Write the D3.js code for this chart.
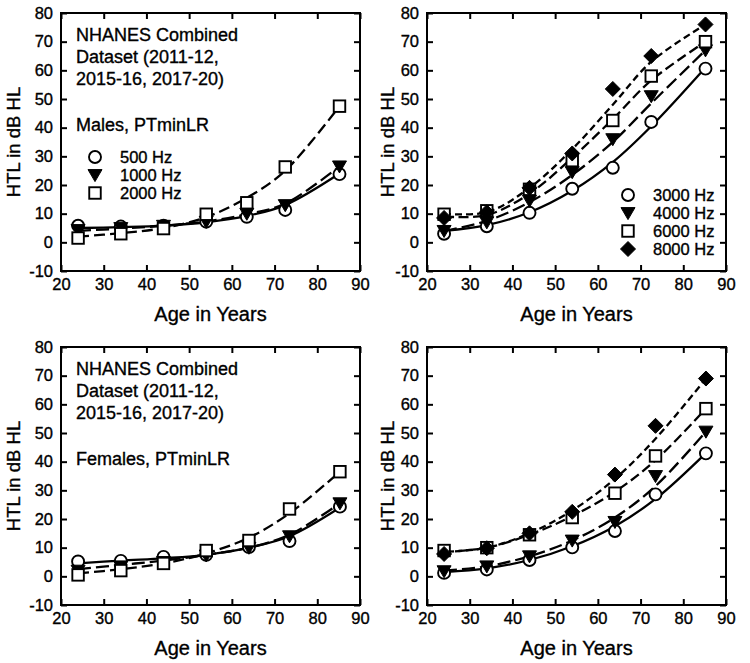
<!DOCTYPE html>
<html>
<head>
<meta charset="utf-8">
<script src="https://cdn.jsdelivr.net/npm/d3@7"></script>
<style>
  html, body { margin: 0; padding: 0; background: #fff; }
  svg { display: block; font-family: Arial, "Liberation Sans", Helvetica, sans-serif; }
  svg text { stroke: #000; stroke-width: 0.35px; fill: #000; }
</style>
</head>
<body>
<svg id="chart" width="750" height="663"></svg>
<script>
// ---------------- DATA ----------------
const xTicks = [20, 30, 40, 50, 60, 70, 80, 90];
const yTicks = [-10, 0, 10, 20, 30, 40, 50, 60, 70, 80];

const agesMale   = [24, 34, 44, 54, 63.5, 72.5, 85.2];
const agesFemale = [24, 34, 44, 54, 64, 73.5, 85.3];

const lowFreqLabels  = ["500 Hz", "1000 Hz", "2000 Hz"];
const highFreqLabels = ["3000 Hz", "4000 Hz", "6000 Hz", "8000 Hz"];

// Males, low frequencies (points, fitted curves)
const male500      = [5.8, 5.5, 5.8, 7.2, 8.9, 11.3, 23.8];
const male500Fit   = [5.0, 5.3, 5.8, 7.0, 9.2, 13.0, 24.0];
const male1000     = [4.3, 5.0, 5.8, 7.2, 10.0, 13.0, 26.5];
const male1000Fit  = [4.0, 4.8, 5.8, 7.3, 9.8, 13.5, 26.5];
const male2000     = [1.5, 3.0, 4.8, 9.8, 13.8, 26.3, 47.5];
const male2000Fit  = [2.0, 3.2, 5.0, 8.8, 15.5, 25.0, 47.5];

// Males, high frequencies
const male3000     = [3.0, 5.6, 10.3, 18.7, 26.0, 42.0, 60.6];
const male3000Fit  = [4.0, 6.0, 10.5, 18.0, 28.0, 40.5, 61.0];
const male4000     = [4.0, 7.0, 14.5, 24.5, 36.0, 51.0, 67.0];
const male4000Fit  = [4.0, 7.5, 14.0, 23.5, 35.0, 48.5, 67.0];
const male6000     = [9.8, 11.0, 18.5, 28.5, 42.5, 58.0, 70.0];
const male6000Fit  = [9.0, 9.5, 17.0, 29.5, 43.0, 56.5, 70.0];
const male8000     = [8.5, 10.5, 19.0, 31.0, 53.5, 65.0, 76.0];
const male8000Fit  = [10.0, 10.5, 19.0, 32.5, 48.0, 63.0, 76.0];

// Females, low frequencies
const female500     = [5.2, 5.4, 6.8, 7.5, 10.2, 12.3, 24.3];
const female500Fit  = [4.5, 5.5, 6.3, 7.5, 10.0, 14.0, 24.0];
const female1000    = [2.0, 3.5, 5.0, 7.3, 10.0, 14.0, 25.5];
const female1000Fit = [2.5, 4.0, 5.5, 7.5, 10.0, 14.5, 25.5];
const female2000    = [0.5, 2.0, 4.5, 9.0, 12.5, 23.5, 36.5];
const female2000Fit = [1.0, 2.5, 4.5, 8.0, 13.5, 22.0, 36.5];

// Females, high frequencies
const female3000     = [1.2, 2.4, 5.7, 10.1, 15.8, 28.6, 42.9];
const female3000Fit  = [1.5, 2.8, 5.7, 10.5, 17.5, 27.0, 43.0];
const female4000     = [1.8, 3.5, 7.0, 12.5, 19.0, 35.0, 50.5];
const female4000Fit  = [2.0, 3.5, 7.0, 12.5, 20.5, 31.5, 50.5];
const female6000     = [9.0, 10.0, 14.5, 20.5, 29.0, 42.0, 58.5];
const female6000Fit  = [8.5, 10.0, 14.5, 21.0, 29.5, 40.5, 58.5];
const female8000     = [7.8, 9.8, 15.0, 22.5, 35.5, 52.5, 69.0];
const female8000Fit  = [8.5, 10.0, 15.0, 23.0, 34.0, 48.0, 69.0];

const annotationLines = ["NHANES Combined", "Dataset (2011-12,", "2015-16, 2017-20)"];
const groupLabels = ["Males, PTminLR", "Females, PTminLR"];

// ---------------- STYLES ----------------
const markerKinds = { "500 Hz": "circle", "1000 Hz": "triangle", "2000 Hz": "square",
                      "3000 Hz": "circle", "4000 Hz": "triangle", "6000 Hz": "square", "8000 Hz": "diamond" };
const dashKinds   = { "500 Hz": null, "1000 Hz": "13,5", "2000 Hz": "11,5",
                      "3000 Hz": null, "4000 Hz": "13,5", "6000 Hz": "10,4.5", "8000 Hz": "7,4" };

// ---------------- PANELS ----------------
const panels = [
  { left: 61,  top: 13,  ages: agesMale, labels: lowFreqLabels, titleOff: -41,
    series: [male500, male1000, male2000], fits: [male500Fit, male1000Fit, male2000Fit],
    note: true, group: groupLabels[0], legend: { x: 95, y: 157 } },
  { left: 427, top: 13,  ages: agesMale, labels: highFreqLabels, titleOff: -33,
    series: [male3000, male4000, male6000, male8000], fits: [male3000Fit, male4000Fit, male6000Fit, male8000Fit],
    note: false, legend: { x: 628, y: 195 } },
  { left: 61,  top: 347, ages: agesFemale, labels: lowFreqLabels, titleOff: -41,
    series: [female500, female1000, female2000], fits: [female500Fit, female1000Fit, female2000Fit],
    note: true, group: groupLabels[1], legend: null },
  { left: 427, top: 347, ages: agesFemale, labels: highFreqLabels, titleOff: -33,
    series: [female3000, female4000, female6000, female8000], fits: [female3000Fit, female4000Fit, female6000Fit, female8000Fit],
    note: false, legend: null }
];

const W = 299, H = 258;
const svg = d3.select("#chart");
const fmt = d => String(d); // plain hyphen-minus like the reference

function drawMarker(g, kind, cx, cy) {
  const sw = 1.9;
  if (kind === "circle") {
    g.append("circle").attr("cx", cx).attr("cy", cy).attr("r", 6)
      .attr("fill", "#fff").attr("stroke", "#000").attr("stroke-width", sw);
  } else if (kind === "square") {
    const s = 11.5;
    g.append("rect").attr("x", cx - s / 2).attr("y", cy - s / 2).attr("width", s).attr("height", s)
      .attr("fill", "#fff").attr("stroke", "#000").attr("stroke-width", sw);
  } else if (kind === "triangle") {
    const w = 7, h = 12;
    g.append("path").attr("d", `M${cx - w},${cy - h * 0.45}L${cx + w},${cy - h * 0.45}L${cx},${cy + h * 0.55}Z`)
      .attr("fill", "#000").attr("stroke", "#000").attr("stroke-width", 1);
  } else if (kind === "diamond") {
    const r = 7.5;
    g.append("path").attr("d", `M${cx},${cy - r}L${cx + r},${cy}L${cx},${cy + r}L${cx - r},${cy}Z`)
      .attr("fill", "#000").attr("stroke", "#000").attr("stroke-width", 1);
  }
}

panels.forEach(p => {
  const x = d3.scaleLinear().domain([20, 90]).range([0, W]);
  const y = d3.scaleLinear().domain([-10, 80]).range([H, 0]);
  const g = svg.append("g").attr("transform", `translate(${p.left},${p.top})`);

  // axes (inward ticks all round)
  const tickStyle = sel => {
    sel.select(".domain").remove();
    sel.selectAll(".tick line").attr("stroke", "#000").attr("stroke-width", 2);
    sel.selectAll(".tick text").attr("fill", "#000").attr("font-size", 16.5);
  };
  g.append("g").attr("transform", `translate(0,${H})`)
    .call(d3.axisBottom(x).tickValues(xTicks).tickFormat(fmt).tickSize(-6).tickPadding(7)).call(tickStyle);
  g.append("g")
    .call(d3.axisLeft(y).tickValues(yTicks).tickFormat(fmt).tickSize(-6).tickPadding(8)).call(tickStyle);
  g.append("g")
    .call(d3.axisTop(x).tickValues(xTicks).tickSize(-6).tickFormat("")).call(tickStyle);
  g.append("g").attr("transform", `translate(${W},0)`)
    .call(d3.axisRight(y).tickValues(yTicks).tickSize(-6).tickFormat("")).call(tickStyle);

  g.append("rect").attr("x", 0).attr("y", 0).attr("width", W).attr("height", H)
    .attr("fill", "none").attr("stroke", "#000").attr("stroke-width", 2);

  // axis titles
  g.append("text").attr("x", W / 2).attr("y", H + 50).attr("text-anchor", "middle")
    .attr("font-size", 20).text("Age in Years");
  g.append("text").attr("transform", `translate(${p.titleOff},${H / 2}) rotate(-90)`).attr("text-anchor", "middle")
    .attr("font-size", 18.5).text("HTL in dB HL");

  // fitted curves
  const line = d3.line().x((d, i) => x(p.ages[i])).y(d => y(d)).curve(d3.curveCatmullRom.alpha(0.5));
  p.labels.forEach((lab, k) => {
    g.append("path").datum(p.fits[k]).attr("d", line)
      .attr("fill", "none").attr("stroke", "#000").attr("stroke-width", 2.3)
      .attr("stroke-dasharray", dashKinds[lab]);
  });
  // markers
  p.labels.forEach((lab, k) => {
    p.series[k].forEach((v, i) => drawMarker(g, markerKinds[lab], x(p.ages[i]), y(v)));
  });

  // annotation
  if (p.note) {
    annotationLines.forEach((t, i) => {
      g.append("text").attr("x", 15).attr("y", 28 + i * 22).attr("font-size", 18).text(t);
    });
    g.append("text").attr("x", 15).attr("y", 118).attr("font-size", 18).text(p.group);
  }

  // legend
  if (p.legend) {
    const lg = svg.append("g");
    p.labels.forEach((lab, k) => {
      const ly = p.legend.y + k * 18;
      drawMarker(lg, markerKinds[lab], p.legend.x, ly);
      lg.append("text").attr("x", p.legend.x + 25).attr("y", ly).attr("dy", "0.36em")
        .attr("font-size", 16.5).text(lab);
    });
  }
});
</script>
</body>
</html>
